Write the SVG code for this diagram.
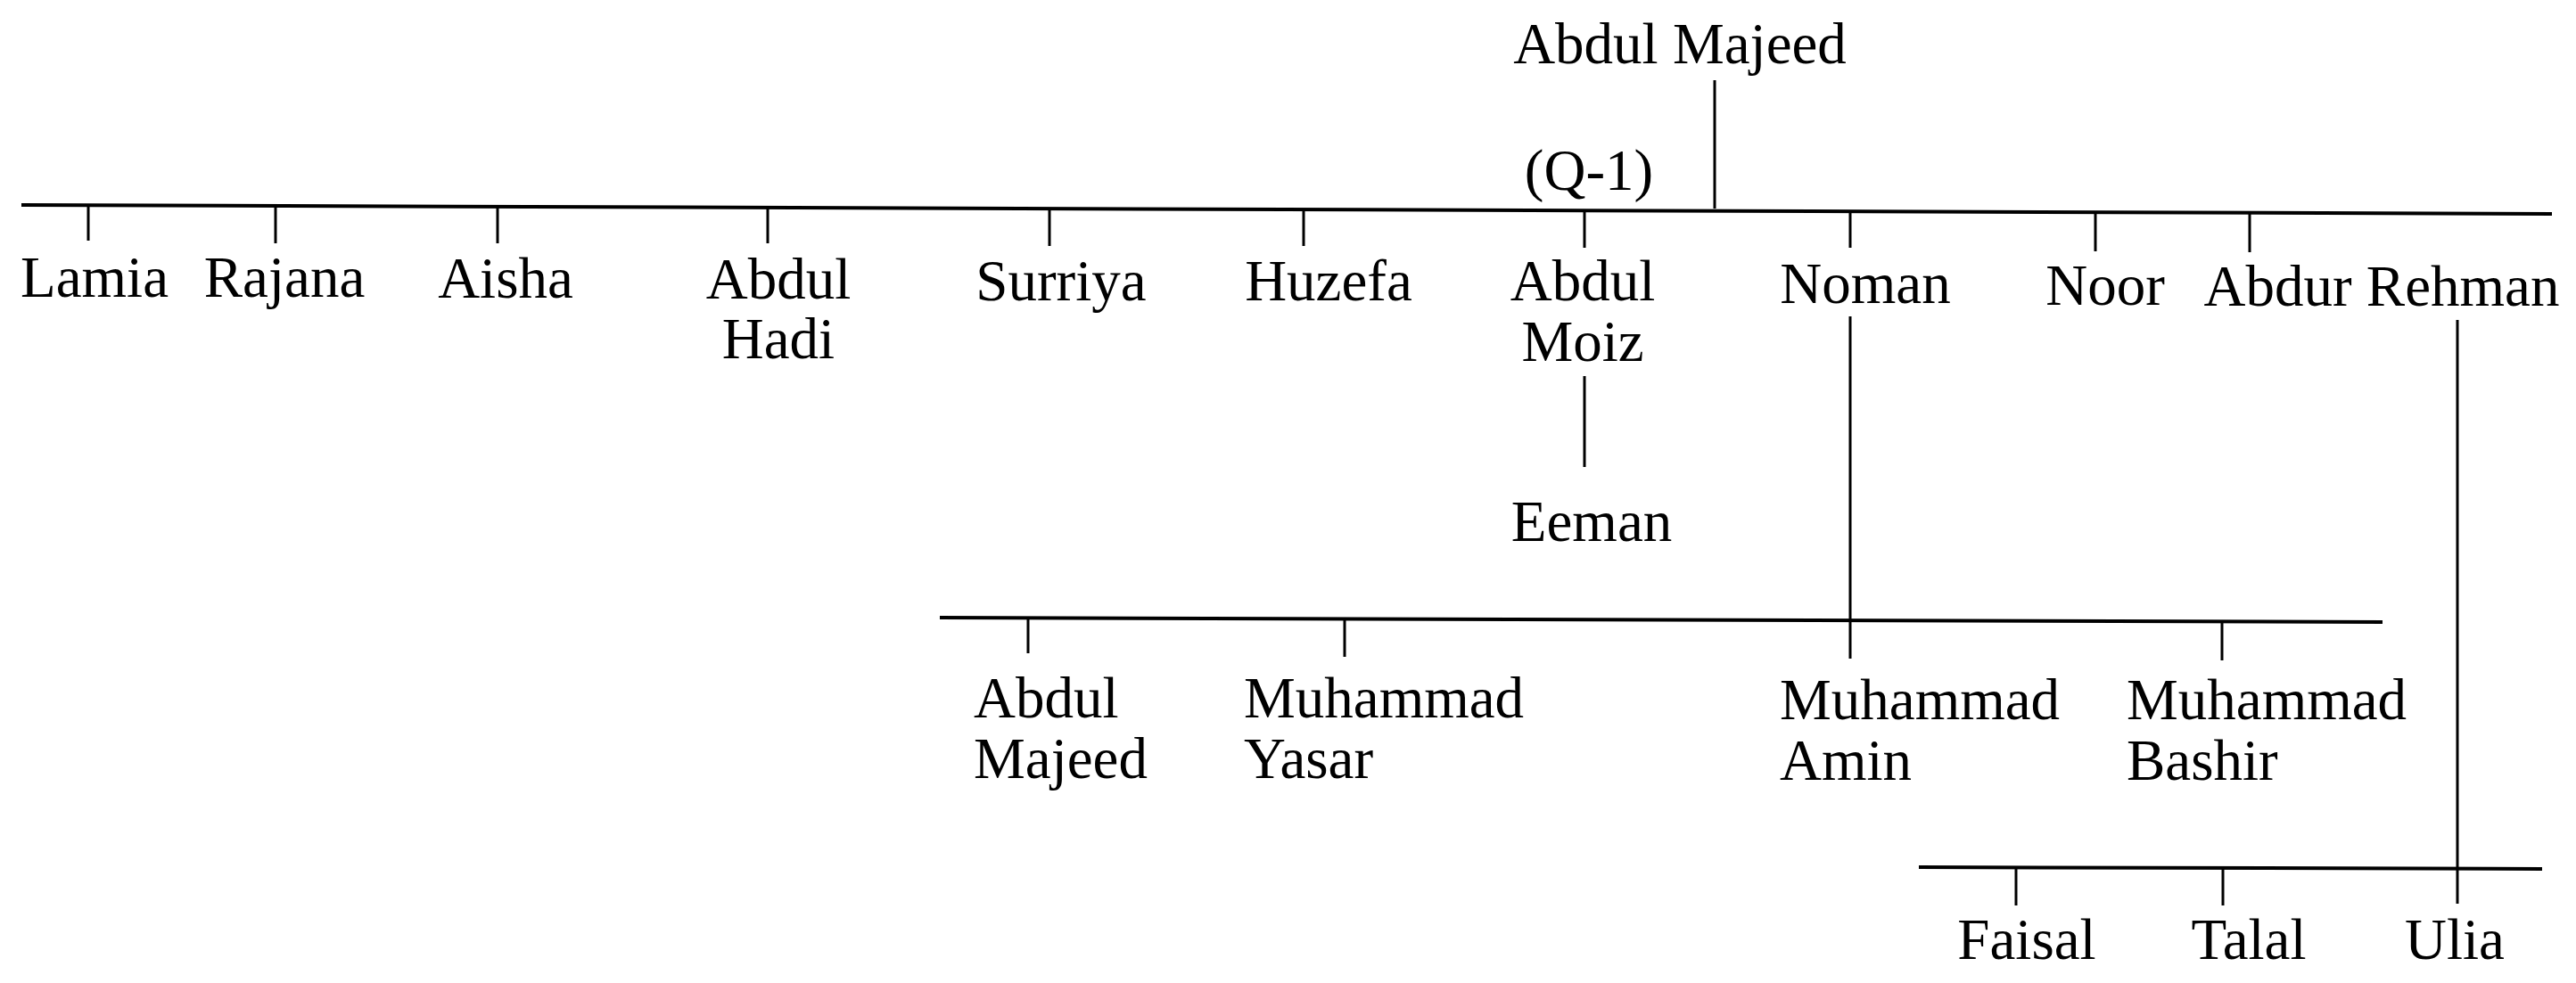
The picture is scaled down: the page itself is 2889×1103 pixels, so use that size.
<svg xmlns="http://www.w3.org/2000/svg" width="2889" height="1103" viewBox="0 0 2889 1103">
<style>
text{font-family:"Liberation Serif","Times New Roman",serif;font-size:65px;fill:#000}
.c{text-anchor:middle}
.l{text-anchor:start}
line{stroke:#000;stroke-linecap:butt}
.bar{stroke-width:4}
.tk{stroke-width:3}
</style>
<rect width="2889" height="1103" fill="#fff"/>
<g id="connectors">
<line class="tk" x1="1923" y1="90" x2="1923" y2="234"/>
<line class="bar" x1="24" y1="230" x2="2862" y2="240"/>
<line class="tk" x1="99" y1="230" x2="99" y2="270"/>
<line class="tk" x1="309" y1="231" x2="309" y2="273"/>
<line class="tk" x1="558" y1="232" x2="558" y2="273"/>
<line class="tk" x1="861" y1="233" x2="861" y2="273"/>
<line class="tk" x1="1177" y1="234" x2="1177" y2="276"/>
<line class="tk" x1="1462" y1="235" x2="1462" y2="276"/>
<line class="tk" x1="1777" y1="236" x2="1777" y2="278"/>
<line class="tk" x1="2075" y1="237" x2="2075" y2="278"/>
<line class="tk" x1="2350" y1="238" x2="2350" y2="282"/>
<line class="tk" x1="2523" y1="239" x2="2523" y2="283"/>
<line class="tk" x1="1777" y1="422" x2="1777" y2="524"/>
<line class="tk" x1="2075" y1="355" x2="2075" y2="739"/>
<line class="tk" x1="2756" y1="359" x2="2756" y2="1014"/>
<line class="bar" x1="1054" y1="693" x2="2672" y2="698"/>
<line class="tk" x1="1153" y1="693" x2="1153" y2="733"/>
<line class="tk" x1="1508" y1="695" x2="1508" y2="737"/>
<line class="tk" x1="2492" y1="697" x2="2492" y2="741"/>
<line class="bar" x1="2152" y1="973" x2="2851" y2="975"/>
<line class="tk" x1="2261" y1="974" x2="2261" y2="1016"/>
<line class="tk" x1="2493" y1="974" x2="2493" y2="1016"/>
</g>
<g id="n-root"><text class="c" x="1884" y="71">Abdul Majeed</text><text class="c" x="1782" y="213">(Q-1)</text></g>
<g id="n-lamia"><text class="c" x="106" y="333">Lamia</text></g>
<g id="n-rajana"><text class="c" x="319" y="333">Rajana</text></g>
<g id="n-aisha"><text class="c" x="567" y="334">Aisha</text></g>
<g id="n-abdulhadi"><text class="c" x="873" y="335">Abdul</text><text class="c" x="873" y="402">Hadi</text></g>
<g id="n-surriya"><text class="c" x="1190" y="337">Surriya</text></g>
<g id="n-huzefa"><text class="c" x="1490" y="337">Huzefa</text></g>
<g id="n-abdulmoiz"><text class="c" x="1775" y="337">Abdul</text><text class="c" x="1775" y="405">Moiz</text></g>
<g id="n-noman"><text class="c" x="2092" y="340">Noman</text></g>
<g id="n-noor"><text class="c" x="2361" y="342">Noor</text></g>
<g id="n-abdurrehman"><text class="c" x="2671" y="343">Abdur Rehman</text></g>
<g id="n-eeman"><text class="c" x="1785" y="607">Eeman</text></g>
<g id="n-abdulmajeed2"><text class="l" x="1092" y="805">Abdul</text><text class="l" x="1092" y="873">Majeed</text></g>
<g id="n-muhammadyasar"><text class="l" x="1395" y="805">Muhammad</text><text class="l" x="1395" y="873">Yasar</text></g>
<g id="n-muhammadamin"><text class="l" x="1996" y="807">Muhammad</text><text class="l" x="1996" y="875">Amin</text></g>
<g id="n-muhammadbashir"><text class="l" x="2385" y="807">Muhammad</text><text class="l" x="2385" y="875">Bashir</text></g>
<g id="n-faisal"><text class="c" x="2273" y="1076">Faisal</text></g>
<g id="n-talal"><text class="c" x="2522" y="1076">Talal</text></g>
<g id="n-ulia"><text class="c" x="2753" y="1076">Ulia</text></g>
</svg>
